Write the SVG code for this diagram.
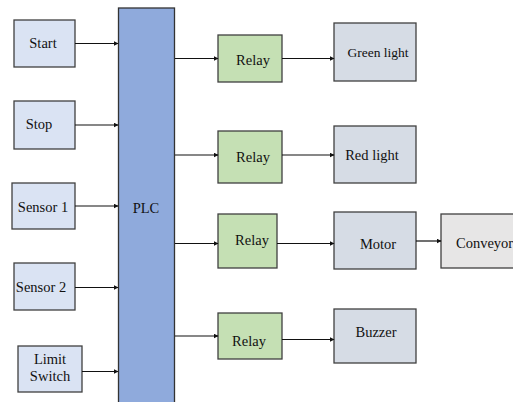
<svg xmlns="http://www.w3.org/2000/svg" width="513" height="402" viewBox="0 0 513 402">
<style>
.box{stroke:#404040;stroke-width:1.3}
.in{fill:#dae3f3}
.plc{fill:#8faadc;stroke:#333;stroke-width:1.3}
.relay{fill:#c5e0b4}
.out{fill:#d6dce5}
.conv{fill:#e7e6e6}
text{font-family:'Liberation Serif','DejaVu Serif',serif;font-size:14.5px;fill:#111;text-anchor:middle}
.conn line{stroke:#111;stroke-width:1.2;marker-end:url(#ah)}
</style>
<defs>
<marker id="ah" viewBox="0 0 10 10" refX="9" refY="5" markerWidth="5" markerHeight="5" markerUnits="userSpaceOnUse" orient="auto">
<path d="M0,0 L10,5 L0,10 z" fill="#111"/>
</marker>
</defs>
<rect width="513" height="402" fill="#fff"/>
<g id="plc"><rect class="plc" x="118.5" y="8" width="56" height="400"/><text x="146" y="213" font-family="Liberation Serif, serif">PLC</text></g>
<g id="start"><rect class="box in" x="14" y="20" width="61" height="47"/><text x="43" y="48">Start</text></g>
<g id="stop"><rect class="box in" x="14" y="101" width="61" height="48"/><text x="39" y="129">Stop</text></g>
<g id="sensor1"><rect class="box in" x="12" y="183" width="63" height="46"/><text x="43" y="212">Sensor 1</text></g>
<g id="sensor2"><rect class="box in" x="14" y="263" width="61" height="47"/><text x="41" y="292">Sensor 2</text></g>
<g id="limit"><rect class="box in" x="18" y="346" width="64" height="46"/><text x="50" y="364">Limit</text><text x="50" y="381">Switch</text></g>
<g id="relay1"><rect class="box relay" x="218" y="35" width="64" height="47"/><text x="253" y="65">Relay</text></g>
<g id="relay2"><rect class="box relay" x="218" y="131" width="64" height="52"/><text x="253" y="162">Relay</text></g>
<g id="relay3"><rect class="box relay" x="218" y="214" width="59" height="54"/><text x="252" y="245">Relay</text></g>
<g id="relay4"><rect class="box relay" x="218" y="313" width="64" height="46"/><text x="249" y="346">Relay</text></g>
<g id="green"><rect class="box out" x="334" y="23" width="82" height="58"/><text x="378" y="57" style="font-size:13.5px">Green light</text></g>
<g id="red"><rect class="box out" x="334" y="126" width="82" height="57"/><text x="372" y="160">Red light</text></g>
<g id="motor"><rect class="box out" x="334" y="212" width="82" height="57"/><text x="378" y="249">Motor</text></g>
<g id="buzzer"><rect class="box out" x="334" y="309" width="82" height="54"/><text x="376" y="337">Buzzer</text></g>
<g id="conveyor"><rect class="box conv" x="441" y="214" width="80" height="54"/><text x="456" y="248" style="text-anchor:start">Conveyor</text></g>
<g class="conn">
<line x1="75" y1="43.5" x2="118" y2="43.5"/>
<line x1="75" y1="125" x2="118" y2="125"/>
<line x1="75" y1="206" x2="118" y2="206"/>
<line x1="75" y1="287.5" x2="118" y2="287.5"/>
<line x1="82" y1="371.5" x2="118" y2="371.5"/>
<line x1="175" y1="58.5" x2="218" y2="58.5"/>
<line x1="175" y1="155" x2="218" y2="155"/>
<line x1="175" y1="243.5" x2="218" y2="243.5"/>
<line x1="175" y1="336" x2="218" y2="336"/>
<line x1="282" y1="58.5" x2="334" y2="58.5"/>
<line x1="282" y1="155" x2="334" y2="155"/>
<line x1="277" y1="243.5" x2="334" y2="243.5"/>
<line x1="282" y1="339.5" x2="334" y2="339.5"/>
<line x1="416" y1="241" x2="441" y2="241"/>
</g>
</svg>
